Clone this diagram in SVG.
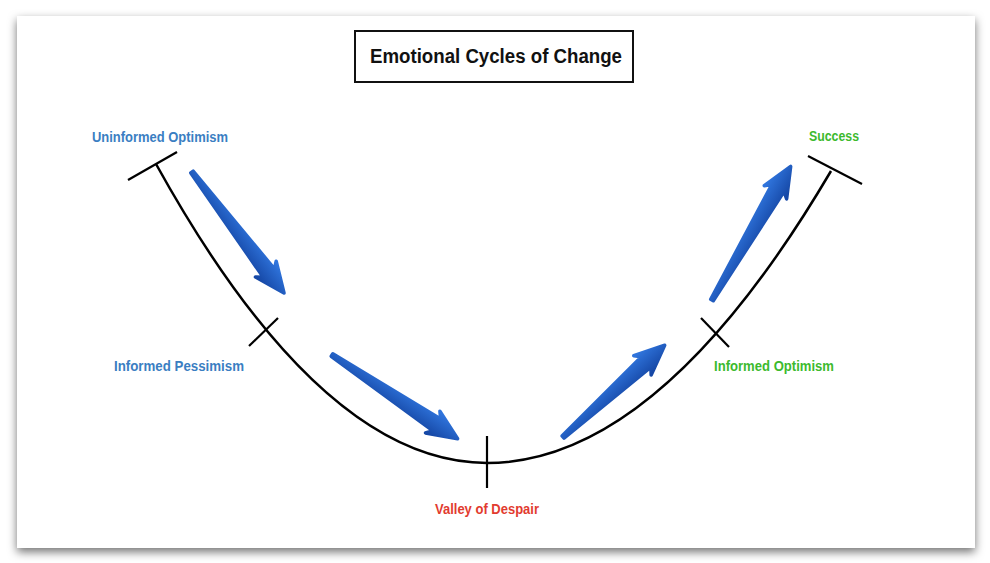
<svg xmlns="http://www.w3.org/2000/svg" width="990" height="563" viewBox="0 0 990 563">
  <defs>
    <filter id="shadow" x="-5%" y="-5%" width="110%" height="115%">
      <feDropShadow dx="0" dy="4" stdDeviation="5" flood-color="#000" flood-opacity="0.55"/>
    </filter>
    <linearGradient id="blue" gradientUnits="userSpaceOnUse" x1="0" y1="-12" x2="0" y2="12">
      <stop offset="0" stop-color="#2f74dc"/>
      <stop offset="1" stop-color="#1648a6"/>
    </linearGradient>
  </defs>
  <style>
    .curve { fill: none; stroke: #000; stroke-width: 2.5; }
    .tick { fill: none; stroke: #000; stroke-width: 2.2; stroke-linecap: butt; }
    .arrow { fill: url(#blue); stroke: url(#blue); stroke-width: 3.5; stroke-linejoin: round; }
    .lbl { font-family: "Liberation Sans", Arial, sans-serif; font-weight: bold; font-size: 14px; text-anchor: middle; }
    .blue { fill: #3a7ec2; }
    .red { fill: #e23b2f; }
    .green { fill: #3cba2e; }
    .title { font-family: "Liberation Sans", Arial, sans-serif; font-weight: bold; font-size: 20px; fill: #111; text-anchor: middle; }
  </style>

  <rect width="990" height="563" fill="#fff"/>
  <rect x="17" y="16" width="958" height="532" fill="#fff" filter="url(#shadow)"/>

  <g id="title">
    <rect x="355" y="31" width="278" height="51" fill="#fff" stroke="#111" stroke-width="2"/>
    <text class="title" x="496" y="63" textLength="252" lengthAdjust="spacingAndGlyphs">Emotional Cycles of Change</text>
  </g>

  <g id="connectors">
    <path class="curve" d="M156,164 Q321.5,463 487,463 Q659,463 831,171"/>
    <g transform="translate(192,172) rotate(52.75)">
      <path class="arrow" d="M0,-1.5 L127,-7 L122,-13 L152,0 L122,13 L127,7 L0,1.5 Z"/>
    </g>
    <g transform="translate(332,355) rotate(33.69)">
      <path class="arrow" d="M0,-1.5 L126,-7 L121,-13 L151,0 L121,13 L126,7 L0,1.5 Z"/>
    </g>
    <g transform="translate(563,437) rotate(-42.06)">
      <path class="arrow" d="M0,-1.5 L112,-7 L107,-13 L137,0 L107,13 L112,7 L0,1.5 Z"/>
    </g>
    <g transform="translate(712,300) rotate(-59.5)">
      <path class="arrow" d="M0,-1.5 L130,-7 L125,-13 L155,0 L125,13 L130,7 L0,1.5 Z"/>
    </g>
  </g>

  <g id="uninformed-optimism">
    <line class="tick" x1="128" y1="180" x2="177" y2="152"/>
    <text class="lbl blue" x="160" y="141.5" textLength="136" lengthAdjust="spacingAndGlyphs">Uninformed Optimism</text>
  </g>
  <g id="informed-pessimism">
    <line class="tick" x1="249" y1="346" x2="278" y2="318"/>
    <text class="lbl blue" x="179" y="371" textLength="130" lengthAdjust="spacingAndGlyphs">Informed Pessimism</text>
  </g>
  <g id="valley-of-despair">
    <line class="tick" x1="487" y1="436" x2="487" y2="488"/>
    <text class="lbl red" x="487" y="514" textLength="104" lengthAdjust="spacingAndGlyphs">Valley of Despair</text>
  </g>
  <g id="informed-optimism">
    <line class="tick" x1="701" y1="318" x2="729" y2="347"/>
    <text class="lbl green" x="774" y="371" textLength="120" lengthAdjust="spacingAndGlyphs">Informed Optimism</text>
  </g>
  <g id="success">
    <line class="tick" x1="808" y1="156" x2="862" y2="184"/>
    <text class="lbl green" x="834" y="141" textLength="50" lengthAdjust="spacingAndGlyphs">Success</text>
  </g>
</svg>
